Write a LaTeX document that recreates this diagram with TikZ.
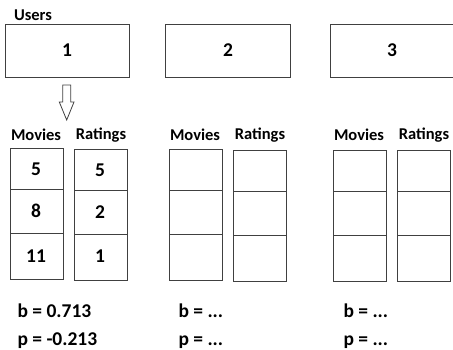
\documentclass[tikz,border=0pt]{standalone}
\usepackage{fontspec}
\setmainfont{Carlito}
\begin{document}
\begin{tikzpicture}[x=1pt,y=-1pt,
  box/.style={draw=black!75, line width=1pt},
  big/.style={font=\bfseries\fontsize{19.5}{19}\selectfont},
  hdr/.style={font=\bfseries\fontsize{16.5}{16}\selectfont},
  lbl/.style={font=\bfseries\fontsize{19.5}{28}\selectfont, anchor=west, align=left}]
\useasboundingbox (0,0) rectangle (453,349);
\begin{scope}
\clip (0,0) rectangle (453,349);
% users
\node[font=\bfseries\fontsize{16.5}{16}\selectfont] (users) at (33,15) {Users};
\draw[box] (5,24) rectangle (129,77);
\draw[box] (165,24) rectangle (290,77);
\draw[box] (330,24) rectangle (470,77);
\node[big] (u1) at (67,50) {1};
\node[big] (u2) at (228,50) {2};
\node[big] (u3) at (392,50) {3};
% arrow
\draw[draw=black!75, line width=0.8pt, fill=white]
  (62.7,85) -- (70.7,85) -- (70.7,102) -- (74,102) -- (66.7,120) -- (59.3,102) -- (62.7,102) -- cycle;
% headers
\node[hdr] (m1) at (36,135) {Movies};
\node[hdr] (r1) at (101,135) {Ratings};
\node[hdr] (m2) at (195,135) {Movies};
\node[hdr] (r2) at (260,135) {Ratings};
\node[hdr] (m3) at (359,135) {Movies};
\node[hdr] (r3) at (424,135) {Ratings};
% columns
\foreach \x/\yt in {10/148, 74/149, 169/149, 233/150, 333/150, 397/150}{
  \draw[box] (\x,\yt) rectangle (\x+53,\yt+131);
  \draw[box] (\x,\yt+41) -- (\x+53,\yt+41);
  \draw[box] (\x,\yt+85) -- (\x+53,\yt+85);
}
\node[big] (a1) at (36,169) {5};
\node[big] (a2) at (36,211) {8};
\node[big] (a3) at (36,256) {11};
\node[big] (b1) at (100,170) {5};
\node[big] (b2) at (100,212) {2};
\node[big] (b3) at (100,256) {1};
% bottom
\node[lbl] (s1) at (14,326) {b = 0.713\\p = -0.213};
\node[lbl] (s2) at (175,326) {b = ...\\p = ...};
\node[lbl] (s3) at (340,326) {b = ...\\p = ...};
\end{scope}
\end{tikzpicture}
\end{document}
